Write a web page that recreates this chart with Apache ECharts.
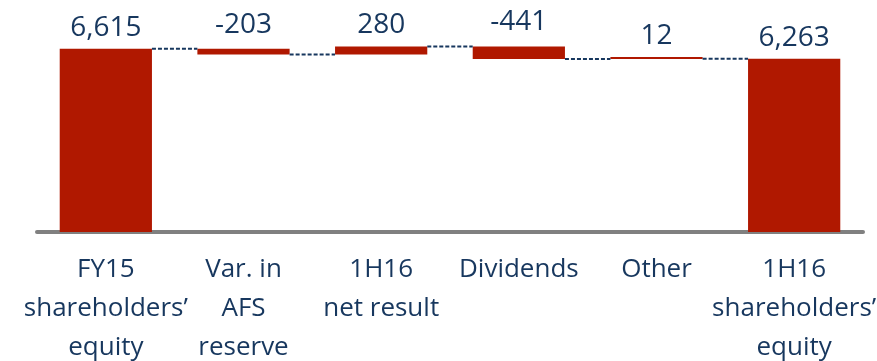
<!DOCTYPE html>
<html>
<head>
<meta charset="utf-8">
<script src="https://cdn.jsdelivr.net/npm/echarts@6/dist/echarts.min.js"></script>
<style>
  html, body { margin: 0; padding: 0; background: #ffffff; }
  #chart { width: 877px; height: 361px; }
</style>
</head>
<body>
<div id="chart"></div>
<script>
// Shareholders' equity bridge, FY15 to 1H16
const categories = [
  'FY15\nshareholders’\nequity',
  'Var. in\nAFS\nreserve',
  '1H16\nnet result',
  'Dividends',
  'Other',
  '1H16\nshareholders’\nequity'
];
const changes = [6615, -203, 280, -441, 12, 6263];   // first and last are totals
const valueLabels = ['6,615', '-203', '280', '-441', '12', '6,263'];

const RED = '#B01800';
const NAVY = '#17375E';
const FONT = '"Open Sans", sans-serif';
const AXIS_MIN = 200;
const AXIS_MAX = 7620;

// Build the floating bars: invisible base + visible segment
const base = [];
const visible = [];
const levels = [];   // running total after each step
let running = 0;
changes.forEach((v, i) => {
  const isTotal = (i === 0 || i === changes.length - 1);
  if (isTotal) {
    base.push(0);
    visible.push(v);
    running = v;
  } else {
    const next = running + v;
    base.push(Math.min(running, next));
    visible.push(Math.abs(v));
    running = next;
  }
  levels.push(running);
});

const connectorData = levels.slice(0, -1).map((lv, i) => [i, lv]);
const BAR_RATIO = 0.67;

const chart = echarts.init(document.getElementById('chart'));
chart.setOption({
  animation: false,
  grid: { left: 37, right: 14, top: 20, bottom: 129, outerBoundsMode: 'none', containLabel: false },
  xAxis: {
    type: 'category',
    data: categories,
    axisLine: { show: true, lineStyle: { color: '#808080', width: 4 } },
    axisTick: { show: false },
    axisLabel: {
      interval: 0,
      margin: 18,
      color: NAVY,
      fontFamily: FONT,
      fontSize: 26,
      lineHeight: 39
    }
  },
  yAxis: {
    type: 'value',
    min: AXIS_MIN,
    max: AXIS_MAX,
    show: false,
    splitLine: { show: false }
  },
  series: [
    {
      type: 'bar',
      stack: 'bridge',
      data: base,
      barWidth: (BAR_RATIO * 100) + '%',
      itemStyle: { color: 'transparent' },
      silent: true
    },
    {
      type: 'bar',
      stack: 'bridge',
      barMinHeight: 2,
      data: visible.map((v, i) => ({
        value: v,
        label: { distance: changes[i] < 0 ? 10 : 7 }
      })),
      barWidth: (BAR_RATIO * 100) + '%',
      itemStyle: { color: RED },
      label: {
        show: true,
        position: 'top',
        color: NAVY,
        fontFamily: FONT,
        fontSize: 28,
        formatter: p => valueLabels[p.dataIndex]
      }
    },
    {
      type: 'custom',
      data: connectorData,
      z: 5,
      renderItem: function (params, api) {
        const i = api.value(0);
        const lv = api.value(1);
        const p0 = api.coord([i, lv]);
        const p1 = api.coord([i + 1, lv]);
        const half = api.size([1, 0])[0] * BAR_RATIO / 2;
        return {
          type: 'line',
          shape: { x1: p0[0] + half, y1: p0[1], x2: p1[0] - half, y2: p1[1] },
          style: { stroke: NAVY, lineWidth: 2, lineDash: [4, 2] }
        };
      }
    }
  ]
});
</script>
</body>
</html>
